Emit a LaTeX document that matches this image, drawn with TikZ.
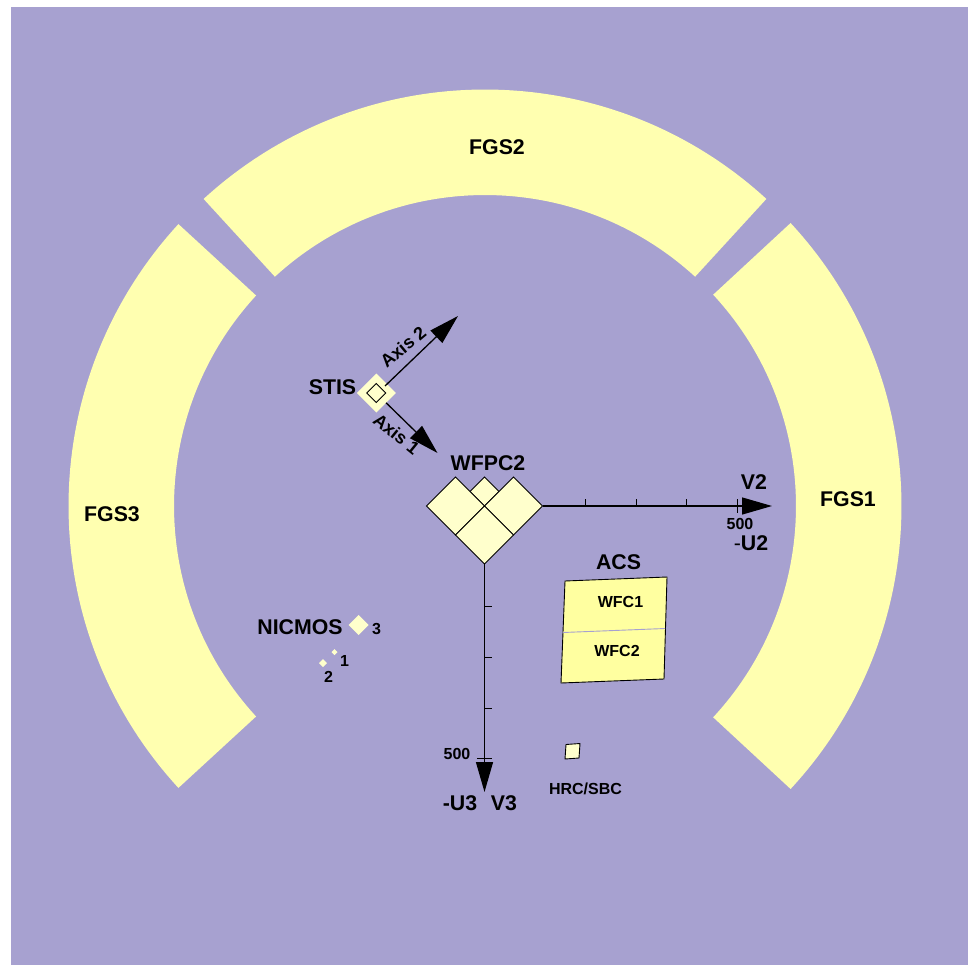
\documentclass[tikz,border=0pt]{standalone}
\usepackage{fontspec}
\setmainfont{Liberation Sans}
\usepackage{xcolor}
\usetikzlibrary{arrows.meta,shapes.geometric}
\definecolor{skybg}{HTML}{A7A1D0}
\definecolor{ringyellow}{HTML}{FFFFB0}
\definecolor{apyellow}{HTML}{FFFFCC}
\definecolor{acsyellow}{HTML}{FFFFA0}

\begin{document}
\begin{tikzpicture}[
    x=1pt, y=-1pt,
    every node/.style={inner sep=0pt, outer sep=0pt},
    biglabel/.style={font=\fontsize{21.3}{24}\selectfont\bfseries},
    midlabel/.style={font=\fontsize{18}{20}\selectfont\bfseries},
    smalllabel/.style={font=\fontsize{16}{18}\selectfont\bfseries},
    fgs/.style={fill=ringyellow},
    aperture/.style={shape=diamond, aspect=1, draw=black, line width=0.9pt, fill=apyellow},
    dot/.style={shape=diamond, aspect=1, fill=apyellow},
    axisline/.style={line width=1.3pt, -{Triangle[length=30pt,width=17pt]}},
    tick/.style={line width=0.9pt}
]

\useasboundingbox (0,0) rectangle (968,965);
\fill[skybg] (11,7) rectangle (968,965);

\begin{scope}[shift={(485,506)}, y=1pt]
  \foreach \a/\b in {-42.8/42.8, 47.5/132.5, 137.4/222.6}
    \fill[fgs] (\a:311) arc[start angle=\a, end angle=\b, radius=311]
      -- (\b:416.5) arc[start angle=\b, end angle=\a, radius=416.5] -- cycle;
\end{scope}

\node[biglabel] (fgsone) at (848,499) {FGS1};
\node[biglabel] (fgstwo) at (497,147) {FGS2};
\node[biglabel] (fgsthree) at (112,514) {FGS3};

% WFPC2
\node[aperture, minimum size=29pt] (wfpcsmall) at (484.5,491.5) {};
\node[aperture, minimum size=58pt] (wfpcleft) at (455.5,506) {};
\node[aperture, minimum size=58pt] (wfpcright) at (513.5,506) {};
\node[aperture, minimum size=58pt] (wfpcbottom) at (484.5,535) {};
\node[biglabel] (wfpclabel) at (488,463) {WFPC2};

% V2 and V3
\coordinate (vtwotip) at (772,506);
\coordinate (vthreetip) at (484.5,792);
\draw[axisline] (wfpcright.east) -- (vtwotip);
\draw[axisline] (wfpcbottom.south) -- (vthreetip);
\foreach \x in {585,636,686}
  \draw[tick] (\x,506) -- (\x,499);
\foreach \y in {606,657,708}
  \draw[tick] (484.5,\y) -- (491.5,\y);
\draw[tick] (737,499) -- (737,513);
\draw[tick] (477,758) -- (492,758);

\node[biglabel] (vtwo) at (754,482) {V2};
\node[smalllabel] (fivehundredh) at (740,524) {500};
\node[biglabel] (utwo) at (751,543) {{\mdseries -}U2};
\node[biglabel] (uthree) at (460,803) {-U3};
\node[biglabel] (vthree) at (504,803) {V3};
\node[smalllabel] (fivehundredv) at (457,754) {500};

% STIS
\node[dot, minimum size=39pt] (stis) at (376.3,393) {};
\node[aperture, minimum size=19pt] (stisslit) at (376.3,393) {};
\node[biglabel] (stislabel) at (332.5,387) {STIS};
\coordinate (axistwostart) at (385,386);
\coordinate (axistwotip) at (458,316);
\coordinate (axisonetip) at (437.5,453);
\draw[axisline] (axistwostart) -- (axistwotip);
\draw[axisline] (stis.south east) -- (axisonetip);
\node[midlabel, rotate=40] (axistwo) at (403,347) {Axis 2};
\node[midlabel, rotate=-39] (axisone) at (396.5,434) {Axis 1};

% ACS
\coordinate (acsa) at (565,581);
\coordinate (acsb) at (667,577);
\coordinate (acsc) at (664,679);
\coordinate (acsd) at (561,683);
\draw[fill=acsyellow, line width=0.9pt] (acsa) -- (acsb) -- (acsc) -- (acsd) -- cycle;
\coordinate (gapl) at (563,632.5);
\coordinate (gapr) at (665,628.5);
\draw[skybg, line width=0.9pt] (gapl) -- (gapr);
\node[biglabel] (acslabel) at (618.5,562.5) {ACS};
\node[smalllabel] (wfcone) at (620.5,601.5) {WFC1};
\node[smalllabel] (wfctwo) at (617,650.5) {WFC2};

% HRC
\coordinate (hrca) at (566,744.5);
\coordinate (hrcb) at (580,743.5);
\coordinate (hrcc) at (579,758);
\coordinate (hrcd) at (565,759);
\draw[fill=apyellow, line width=0.9pt] (hrca) -- (hrcb) -- (hrcc) -- (hrcd) -- cycle;
\node[smalllabel] (hrclabel) at (585.5,788.5) {HRC/SBC};

% NICMOS
\node[dot, minimum size=20pt] (nicthree) at (358.5,625) {};
\node[dot, minimum size=6pt] (nicone) at (334.5,652) {};
\node[dot, minimum size=8pt] (nictwo) at (323,663) {};
\node[biglabel] (niclabel) at (300,627) {NICMOS};
\node[smalllabel] (labthree) at (376.5,629) {3};
\node[smalllabel] (labone) at (344.5,661) {1};
\node[smalllabel] (labtwo) at (328.5,677) {2};

\end{tikzpicture}
\end{document}
